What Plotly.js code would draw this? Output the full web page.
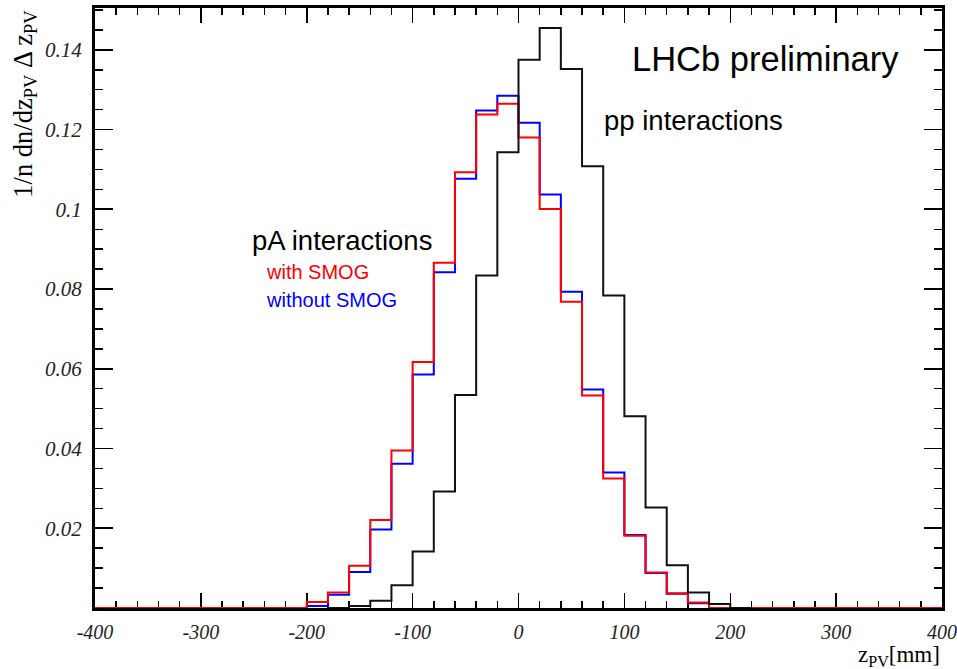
<!DOCTYPE html>
<html>
<head>
<meta charset="utf-8">
<script src="https://cdn.plot.ly/plotly-3.0.1.min.js"></script>
<style>html,body{margin:0;padding:0;background:#fff;}#chart{width:957px;height:669px;}</style>
</head>
<body>
<div id="chart"></div>
<script>
// Bin low edges (mm), bin width 20 mm
const binLow = [-400,-380,-360,-340,-320,-300,-280,-260,-240,-220,
                -200,-180,-160,-140,-120,-100,-80,-60,-40,-20,
                0,20,40,60,80,100,120,140,160,180,
                200,220,240,260,280,300,320,340,360,380];
const binWidth = 20;

// pA interactions, with SMOG (red)
const withSMOG = [0,0,0,0,0,0,0,0,0,0,
                  0.0015,0.0039,0.0106,0.0221,0.0395,0.0617,0.0866,0.1093,0.1238,0.1265,
                  0.1180,0.1001,0.0768,0.0533,0.0325,0.0181,0.0089,0.0037,0.0014,0,
                  0,0,0,0,0,0,0,0,0,0];
// pA interactions, without SMOG (blue)
const withoutSMOG = [0,0,0,0,0,0,0,0,0,0,
                     0.0005,0.0033,0.0090,0.0197,0.0362,0.0586,0.0842,0.1077,0.1248,0.1285,
                     0.1217,0.1037,0.0793,0.0548,0.0340,0.0183,0.0088,0.0036,0.0012,0,
                     0,0,0,0,0,0,0,0,0,0];
// pp interactions (black)
const ppInter = [0,0,0,0,0,0,0,0,0,0,
                 0,0,0.0005,0.0018,0.0057,0.0142,0.0292,0.0534,0.0834,0.1143,
                 0.1375,0.1455,0.1352,0.1108,0.0784,0.0481,0.0252,0.0107,0.0039,0.0010,
                 0,0,0,0,0,0,0,0,0,0];

const xTickVals = [-400,-300,-200,-100,0,100,200,300,400];
const xTickText = ["-400","-300","-200","-100","0","100","200","300","400"];
const yTickVals = [0.02,0.04,0.06,0.08,0.1,0.12,0.14];
const yTickText = ["0.02","0.04","0.06","0.08","0.1","0.12","0.14"];

function stepXY(lows, vals, i0, i1) {
  const x = [lows[i0]], y = [0];
  for (let i = i0; i <= i1; i++) { x.push(lows[i]); y.push(vals[i]); }
  x.push(lows[i1] + binWidth); y.push(0);
  return {x, y};
}
function span(vals, pad) {
  let a = vals.findIndex(v => v > 0), b = vals.length - 1;
  while (b > 0 && vals[b] <= 0) b--;
  return [Math.max(0, a - pad), Math.min(vals.length - 1, b + pad)];
}

const n = binLow.length;
const blue = stepXY(binLow, withoutSMOG, 0, n - 1);
const red = stepXY(binLow, withSMOG, 0, n - 1);
const sp = span(ppInter, 1);
const black = stepXY(binLow, ppInter, sp[0], sp[1]);

const traces = [
  {x: blue.x, y: blue.y, mode: 'lines', line: {shape: 'hv', color: '#0000ff', width: 2}, name: 'without SMOG', hoverinfo: 'skip'},
  {x: red.x, y: red.y, mode: 'lines', line: {shape: 'hv', color: '#ff0000', width: 2}, name: 'with SMOG', hoverinfo: 'skip'},
  {x: black.x, y: black.y, mode: 'lines', line: {shape: 'hv', color: '#111111', width: 2}, name: 'pp', hoverinfo: 'skip'}
];

const sans = 'Liberation Sans, Arial, sans-serif';
const serif = 'Liberation Serif, Times New Roman, serif';

const layout = {
  width: 957, height: 669,
  margin: {l: 95, r: 15, t: 8, b: 61},
  paper_bgcolor: '#fff', plot_bgcolor: '#fff',
  showlegend: false,
  xaxis: {
    range: [-400, 400], showgrid: false, zeroline: false,
    showline: true, linecolor: '#000', linewidth: 3, mirror: 'ticks',
    ticks: 'inside', ticklen: 15, tickwidth: 1.5, tickcolor: '#000',
    tickmode: 'array', tickvals: xTickVals, ticktext: xTickText,
    tickfont: {family: serif, size: 20, style: 'italic', color: '#222'},
    ticklabelstandoff: 4,
    minor: {tickmode: 'linear', tick0: 0, dtick: 20, ticks: 'inside', ticklen: 7, tickwidth: 1.5, tickcolor: '#000', showgrid: false},
    layer: 'below traces', fixedrange: true
  },
  yaxis: {
    range: [0, 0.1505], showgrid: false, zeroline: false,
    showline: true, linecolor: '#000', linewidth: 3, mirror: 'ticks',
    ticks: 'inside', ticklen: 18, tickwidth: 1.8, tickcolor: '#000',
    tickmode: 'array', tickvals: yTickVals, ticktext: yTickText,
    tickfont: {family: serif, size: 21, style: 'italic', color: '#222'},
    ticklabelstandoff: 6,
    minor: {tickmode: 'linear', tick0: 0, dtick: 0.005, ticks: 'inside', ticklen: 8, tickwidth: 1.5, tickcolor: '#000', showgrid: false},
    layer: 'below traces', fixedrange: true
  },
  annotations: [
    {text: 'LHCb preliminary', xref: 'paper', yref: 'paper', x: 0.632, y: 0.915, xanchor: 'left', yanchor: 'middle', showarrow: false, font: {family: sans, size: 34.5, color: '#000'}},
    {text: 'pp interactions', xref: 'paper', yref: 'paper', x: 0.599, y: 0.813, xanchor: 'left', yanchor: 'middle', showarrow: false, font: {family: sans, size: 27.5, color: '#000'}},
    {text: 'pA interactions', xref: 'paper', yref: 'paper', x: 0.183, y: 0.612, xanchor: 'left', yanchor: 'middle', showarrow: false, font: {family: sans, size: 27.5, color: '#000'}},
    {text: 'with SMOG', xref: 'paper', yref: 'paper', x: 0.199, y: 0.56, xanchor: 'left', yanchor: 'middle', showarrow: false, font: {family: sans, size: 20, color: '#ff0000'}},
    {text: 'without SMOG', xref: 'paper', yref: 'paper', x: 0.199, y: 0.513, xanchor: 'left', yanchor: 'middle', showarrow: false, font: {family: sans, size: 20, color: '#0000ff'}},
    {text: '1/n dn/dz<sub>PV</sub> Δ z<sub>PV</sub>', xref: 'paper', yref: 'paper', x: -0.083, y: 1.0, xanchor: 'center', yanchor: 'top', textangle: -90, showarrow: false, font: {family: serif, size: 26.5, color: '#000'}},
    {text: 'z<sub>PV</sub>[mm]', xref: 'paper', yref: 'paper', x: 1.0, y: -0.0795, xanchor: 'right', yanchor: 'middle', showarrow: false, font: {family: serif, size: 23, color: '#000'}}
  ]
};

Plotly.newPlot('chart', traces, layout, {staticPlot: true, displayModeBar: false});
</script>
</body>
</html>
